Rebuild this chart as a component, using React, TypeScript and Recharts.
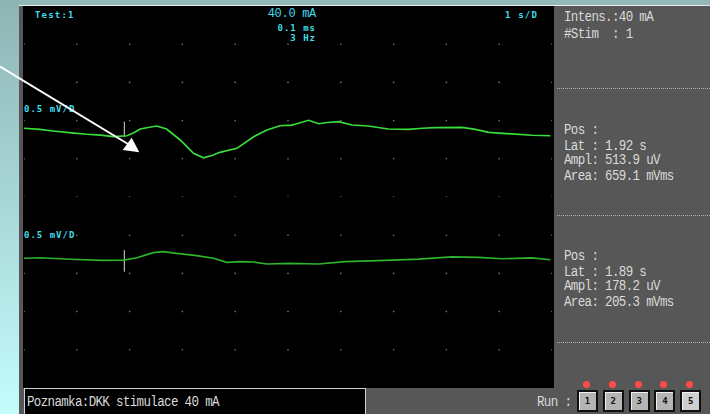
import React from 'react';
import { LineChart, Line, XAxis, YAxis, ReferenceDot, ReferenceLine } from 'recharts';

// sweep 1 (upper channel), time in s, amplitude in mV
const trace1Time = [0, 0.3, 0.55, 0.9, 1.19, 1.45, 1.69, 1.95, 2.08, 2.2, 2.35, 2.51, 2.7, 2.96, 3.21, 3.4, 3.59, 3.65, 3.71, 4.03, 4.35, 4.6, 4.85, 5.07, 5.15, 5.39, 5.58, 5.75, 5.96, 6.21, 6.52, 6.9, 7.28, 7.55, 7.79, 8.29, 8.55, 8.8, 9.24, 9.62, 9.97];
const trace1Mv = [-0.1, -0.115, -0.136, -0.16, -0.179, -0.19, -0.21, -0.198, -0.16, -0.11, -0.09, -0.071, -0.11, -0.254, -0.428, -0.486, -0.45, -0.43, -0.415, -0.363, -0.211, -0.123, -0.067, -0.058, -0.045, 0.004, -0.041, -0.025, -0.014, -0.058, -0.071, -0.11, -0.114, -0.1, -0.093, -0.088, -0.114, -0.153, -0.175, -0.192, -0.198];

// sweep 2 (lower channel)
const trace2Time = [0, 0.3, 0.87, 1.5, 1.88, 2.14, 2.45, 2.64, 2.89, 3.27, 3.59, 3.84, 4.09, 4.35, 4.6, 5.01, 5.58, 6.08, 6.84, 7.47, 8.1, 8.61, 9.05, 9.62, 9.97];
const trace2Mv = [0.198, 0.205, 0.185, 0.171, 0.175, 0.205, 0.271, 0.284, 0.263, 0.232, 0.198, 0.145, 0.153, 0.149, 0.123, 0.132, 0.123, 0.153, 0.171, 0.188, 0.215, 0.211, 0.192, 0.202, 0.179];

const gridTimes = [0, 1, 2, 3, 4, 5, 6, 7, 8, 9, 10];
const trace1Rows = [1, 0.5, 0, -0.5, -1];
const trace2Rows = [0.5, 0, -0.5, -1];
const stimTime = 1.9;
const stim1Span = [-0.014, -0.21];
const stim2Span = [0.306, 0.022];

const data1 = trace1Time.map((t, i) => ({ t, v: trace1Mv[i] }));
const data2 = trace2Time.map((t, i) => ({ t, v: trace2Mv[i] }));

const mono = "'Liberation Mono', 'DejaVu Sans Mono', monospace";
const panelText: React.CSSProperties = {
  position: 'absolute',
  fontFamily: mono,
  fontSize: 12.5,
  letterSpacing: -0.65,
  color: '#dadada',
  whiteSpace: 'pre',
  lineHeight: '14px',
  transform: 'scaleY(1.12)',
  transformOrigin: '0 0',
};
const cyanSmall: React.CSSProperties = {
  position: 'absolute',
  fontFamily: "'DejaVu Sans Mono', monospace",
  fontWeight: 'bold',
  fontSize: 9,
  letterSpacing: 1.2,
  color: '#3fdcec',
  whiteSpace: 'pre',
  lineHeight: '10px',
};

interface TraceProps {
  data: { t: number; v: number }[];
  domain: [number, number];
  rows: number[];
  stim: number[];
  color: string;
  top: number;
}

const Trace: React.FC<TraceProps> = ({ data, domain, rows, stim, color, top }) => (
  <div style={{ position: 'absolute', left: 24, top }}>
    <LineChart width={528} height={191} data={data} margin={{ top: 0, right: 0, bottom: 0, left: 0 }}>
      <XAxis type="number" dataKey="t" domain={[0, 10]} hide />
      <YAxis type="number" domain={domain} hide allowDataOverflow />
      {rows.map((r) =>
        gridTimes.map((g) => (
          <ReferenceDot key={`${r}-${g}`} x={g} y={r} r={0.8} fill="#7c7c7c" stroke="none" />
        ))
      )}
      <ReferenceLine
        segment={[{ x: stimTime, y: stim[0] }, { x: stimTime, y: stim[1] }]}
        stroke="#d8d8d8"
        strokeWidth={1}
      />
      <Line type="linear" dataKey="v" stroke={color} strokeWidth={1.7} dot={false} isAnimationActive={false} />
    </LineChart>
  </div>
);

const buttons = ['1', '2', '3', '4', '5'];

export default function App() {
  return (
    <div
      style={{
        position: 'absolute',
        left: 0,
        top: 0,
        width: 710,
        height: 414,
        overflow: 'hidden',
        background: 'linear-gradient(to bottom, #8fb4b4, #c4fcfc)',
      }}
    >
      {/* top strip */}
      <div style={{ position: 'absolute', left: 19, top: 0, width: 691, height: 6, background: '#93b8b8' }} />
      <div style={{ position: 'absolute', left: 19, top: 5, width: 691, height: 1, background: '#e4eeee' }} />
      {/* frame */}
      <div style={{ position: 'absolute', left: 19, top: 6, width: 691, height: 408, background: '#575757' }} />
      <div style={{ position: 'absolute', left: 23, top: 6, width: 531, height: 382, background: '#000' }} />

      <Trace data={data1} domain={[-1, 1.5]} rows={trace1Rows} stim={stim1Span} color="#3ade3a" top={6} />
      <Trace data={data2} domain={[-1.5, 1]} rows={trace2Rows} stim={stim2Span} color="#2cb42c" top={197} />

      {/* screen labels */}
      <div style={{ ...cyanSmall, left: 35, top: 10 }}>Test:1</div>
      <div style={{ ...cyanSmall, left: 505, top: 10 }}>1 s/D</div>
      <div
        style={{
          position: 'absolute',
          right: 710 - 316,
          top: 8,
          fontFamily: mono,
          fontSize: 12,
          letterSpacing: -0.3,
          color: '#3fdcec',
          lineHeight: '13px',
        }}
      >
        40.0 mA
      </div>
      <div style={{ ...cyanSmall, right: 710 - 316, top: 23, textAlign: 'right', letterSpacing: 1 }}>0.1 ms</div>
      <div style={{ ...cyanSmall, right: 710 - 316, top: 33, textAlign: 'right', letterSpacing: 1 }}>3 Hz</div>
      <div style={{ ...cyanSmall, left: 24, top: 104, letterSpacing: 1 }}>0.5 mV/D</div>
      <div style={{ ...cyanSmall, left: 24, top: 230, letterSpacing: 1 }}>0.5 mV/D</div>

      {/* right panel */}
      <div style={{ ...panelText, left: 564, top: 10, lineHeight: '15px' }}>{'Intens.:40 mA\n#Stim  : 1'}</div>
      <div style={{ position: 'absolute', left: 557, top: 88, width: 153, borderTop: '1px dotted #b0b0b0' }} />
      <div style={{ ...panelText, left: 564, top: 124, lineHeight: '13.5px' }}>
        {'Pos :\nLat : 1.92 s\nAmpl: 513.9 uV\nArea: 659.1 mVms'}
      </div>
      <div style={{ position: 'absolute', left: 557, top: 215, width: 153, borderTop: '1px dotted #b0b0b0' }} />
      <div style={{ ...panelText, left: 564, top: 250, lineHeight: '13.5px' }}>
        {'Pos :\nLat : 1.89 s\nAmpl: 178.2 uV\nArea: 205.3 mVms'}
      </div>
      <div style={{ position: 'absolute', left: 557, top: 342, width: 153, borderTop: '1px dotted #b0b0b0' }} />

      {/* note box */}
      <div
        style={{
          position: 'absolute',
          left: 24,
          top: 388,
          width: 340,
          height: 30,
          background: '#000',
          border: '1px solid #d0d0d0',
        }}
      />
      <div style={{ ...panelText, left: 27, top: 395 }}>Poznamka:DKK stimulace 40 mA</div>

      {/* run buttons */}
      <div style={{ ...panelText, left: 537, top: 395 }}>Run :</div>
      {buttons.map((b, i) => (
        <React.Fragment key={b}>
          <div
            style={{
              position: 'absolute',
              left: 583 + i * 25.8,
              top: 381,
              width: 7,
              height: 7,
              borderRadius: 4,
              background: '#ff4a4a',
            }}
          />
          <div
            style={{
              position: 'absolute',
              left: 577 + i * 25.8,
              top: 390,
              width: 17,
              height: 18,
              background: i === 4 ? '#cfcfcf' : '#b4b4b4',
              border: '2px solid #101010',
              boxShadow: 'inset 1px 1px 0 #f0f0f0',
              fontFamily: "'DejaVu Sans Mono', monospace",
              fontWeight: 'bold',
              fontSize: 9,
              color: '#111',
              textAlign: 'center',
              lineHeight: '18px',
            }}
          >
            {b}
          </div>
        </React.Fragment>
      ))}

      {/* annotation arrow */}
      <svg width={710} height={414} style={{ position: 'absolute', left: 0, top: 0 }}>
        <line x1={0} y1={66.5} x2={128} y2={144} stroke="#fff" strokeWidth={2} />
        <polygon points="122.7,150 139.3,152.3 131.7,137.7" fill="#fff" />
      </svg>
    </div>
  );
}
